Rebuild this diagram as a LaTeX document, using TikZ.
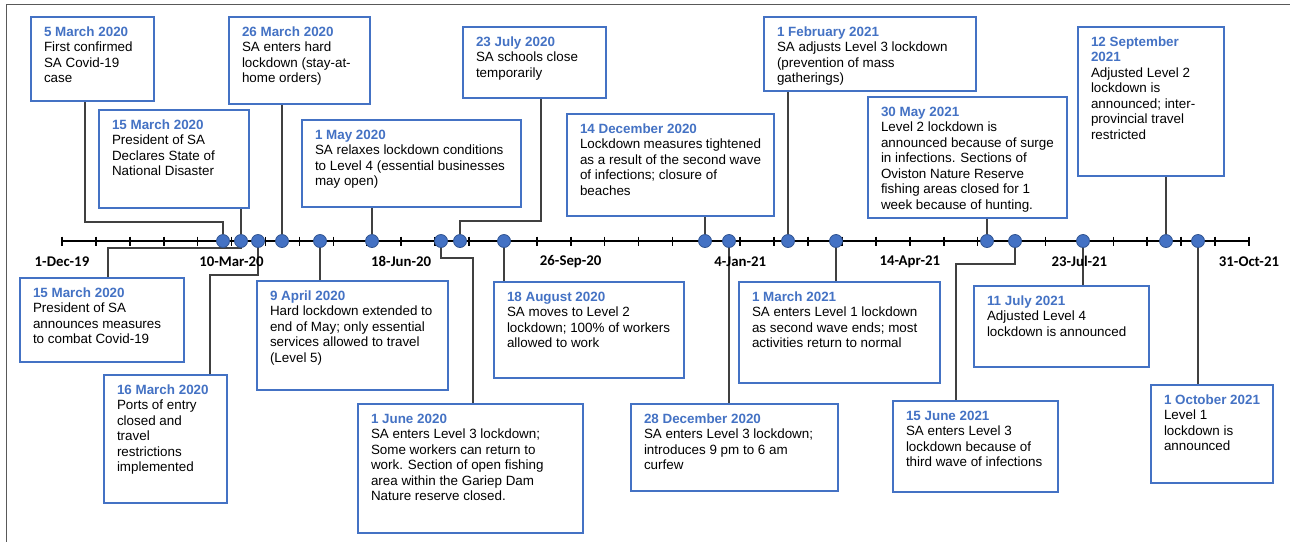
\documentclass[tikz,border=0pt]{standalone}
\usepackage{fontspec}
\setmainfont{Liberation Sans}
\newfontfamily\axisfont{Carlito}
\usetikzlibrary{calc,backgrounds}
\definecolor{boxblue}{HTML}{4472C4}
\definecolor{dateblue}{HTML}{4472C4}
\definecolor{dotblue}{HTML}{4472C4}
\definecolor{dotedge}{HTML}{2F528F}
\definecolor{connc}{HTML}{404040}
\definecolor{framec}{HTML}{595959}
\newcommand{\ev}[4]{\parbox[t][#2pt][t]{#1pt}{\raggedright\strut\textcolor{dateblue}{\bfseries #3}\\#4}}
\begin{document}
\begin{tikzpicture}[x=1pt,y=-1pt,
  evbox/.style={draw=boxblue, line width=1.8pt, fill=white, anchor=north west,
    inner xsep=13pt, inner ysep=8.5pt, outer sep=0pt,
    font=\fontsize{13.4}{15.5}\selectfont},
  dot/.style={circle, fill=dotblue, draw=dotedge, line width=0.8pt, minimum size=13pt, inner sep=0pt},
  conn/.style={draw=connc, line width=1.3pt},
  axisline/.style={draw=black, line width=2.5pt},
  tickmark/.style={draw=black, line width=1.6pt},
  axlabel/.style={font=\axisfont\bfseries\fontsize{14.8}{16}\selectfont, inner sep=0pt}]
\useasboundingbox (0,0) rectangle (1290,542);
% frame
\draw[framec, line width=1.5pt] (1290,4.7) -- (6.7,4.7) -- (6.7,542);
% axis
\draw[axisline] (62,241) -- (1249,241);
\foreach \i in {0,...,35} {\draw[tickmark] ({62+\i*33.914},236.5) -- ({62+\i*33.914},245.5);}
\foreach \t [count=\i from 0] in {1-Dec-19,10-Mar-20,18-Jun-20,26-Sep-20,4-Jan-21,14-Apr-21,23-Jul-21,31-Oct-21}
  {\node[axlabel] (lab\i) at ({62+\i*169.57},261.5) {\t};}
% dots
\node[dot] (d1) at (223,241) {};
\node[dot] (d2) at (241,241) {};
\node[dot] (d3) at (258,241) {};
\node[dot] (d4) at (282,241) {};
\node[dot] (d5) at (320,241) {};
\node[dot] (d6) at (372,241) {};
\node[dot] (d7) at (441,241) {};
\node[dot] (d8) at (460,241) {};
\node[dot] (d9) at (504,241) {};
\node[dot] (d10) at (705,241) {};
\node[dot] (d11) at (729,241) {};
\node[dot] (d12) at (788,241) {};
\node[dot] (d13) at (836,241) {};
\node[dot] (d14) at (987,241) {};
\node[dot] (d15) at (1015,241) {};
\node[dot] (d16) at (1083,241) {};
\node[dot] (d17) at (1166,241) {};
\node[dot] (d18) at (1198,241) {};
% top boxes
\node[evbox] (b1) at (31,17) {\ev{97}{67}{5 March 2020}{First confirmed\\SA Covid-19\\case}};
\node[evbox] (b2) at (99,110) {\ev{124}{81}{15 March 2020}{President of SA\\Declares State of\\National Disaster}};
\node[evbox] (b3) at (229,17) {\ev{115}{70}{26 March 2020}{SA enters hard\\lockdown (stay-at-\\home orders)}};
\node[evbox] (b4) at (302,120) {\ev{193}{70}{1 May 2020}{SA relaxes lockdown conditions\\to Level 4 (essential businesses\\may open)}};
\node[evbox] (b5) at (463,27) {\ev{117}{54}{23 July 2020}{SA schools close\\temporarily}};
\node[evbox] (b6) at (567,114) {\ev{181}{85}{14 December 2020}{Lockdown measures tightened\\as a result of the second wave\\of infections; closure of\\beaches}};
\node[evbox] (b7) at (764,17) {\ev{186}{57}{1 February 2021}{SA adjusts Level 3 lockdown\\(prevention of mass\\gatherings)}};
\node[evbox] (b8) at (868,97) {\ev{173}{104}{30 May 2021}{Level 2 lockdown is\\announced because of surge\\in infections. Sections of\\Oviston Nature Reserve\\fishing areas closed for 1\\week because of hunting.}};
\node[evbox] (b9) at (1078,27) {\ev{120}{132}{12 September\\2021}{Adjusted Level 2\\lockdown is\\announced; inter-\\provincial travel\\restricted}};
% bottom boxes
\node[evbox] (b10) at (20,278) {\ev{138}{67}{15 March 2020}{President of SA\\announces measures\\to combat Covid-19}};
\node[evbox] (b11) at (104,375) {\ev{97}{111}{16 March 2020}{Ports of entry\\closed and\\travel\\restrictions\\implemented}};
\node[evbox] (b12) at (257,281) {\ev{165}{92}{9 April 2020}{Hard lockdown extended to\\end of May; only essential\\services allowed to travel\\(Level 5)}};
\node[evbox] (b13) at (358,404) {\ev{199}{112}{1 June 2020}{SA enters Level 3 lockdown;\\Some workers can return to\\work. Section of open fishing\\area within the Gariep Dam\\Nature reserve closed.}};
\node[evbox] (b14) at (494,282) {\ev{164}{79}{18 August 2020}{SA moves to Level 2\\lockdown; 100\% of workers\\allowed to work}};
\node[evbox] (b15) at (631,404) {\ev{181}{70}{28 December 2020}{SA enters Level 3 lockdown;\\introduces 9 pm to 6 am\\curfew}};
\node[evbox] (b16) at (739,282) {\ev{175}{84}{1 March 2021}{SA enters Level 1 lockdown\\as second wave ends; most\\activities return to normal}};
\node[evbox] (b17) at (893,401) {\ev{139}{74}{15 June 2021}{SA enters Level 3\\lockdown because of\\third wave of infections}};
\node[evbox] (b18) at (974,286) {\ev{149}{64}{11 July 2021}{Adjusted Level 4\\lockdown is announced}};
\node[evbox] (b19) at (1151,385) {\ev{96}{81}{1 October 2021}{Level 1\\lockdown is\\announced}};
% connectors
\begin{pgfonlayer}{background}
\draw[conn] ([xshift=54pt]b1.south west) -- ++(0,121) -| (d1);
\draw[conn] (b2.south -| d2) -- (d2);
\draw[conn] (b3.south -| d4) -- (d4);
\draw[conn] (b4.south -| d6) -- (d6);
\draw[conn] ([xshift=78pt]b5.south west) -- ++(0,123) -| (d8);
\draw[conn] (b6.south -| d10) -- (d10);
\draw[conn] (b7.south -| d12) -- (d12);
\draw[conn] (b8.south -| d14) -- (d14);
\draw[conn] (b9.south -| d17) -- (d17);
\draw[conn] ([xshift=88pt]b10.north west) -- ++(0,-30) -| (d2);
\draw[conn] ([xshift=106pt]b11.north west) -- ++(0,-100) -| (d3);
\draw[conn] (b12.north -| d5) -- (d5);
\draw[conn] ([xshift=115pt]b13.north west) -- ++(0,-146) -| (d7);
\draw[conn] (b14.north -| d9) -- (d9);
\draw[conn] (b15.north -| d11) -- (d11);
\draw[conn] (b16.north -| d13) -- (d13);
\draw[conn] ([xshift=63pt]b17.north west) -- ++(0,-137) -| (d15);
\draw[conn] (b18.north -| d16) -- (d16);
\draw[conn] (b19.north -| d18) -- (d18);
\end{pgfonlayer}
\end{tikzpicture}
\end{document}
